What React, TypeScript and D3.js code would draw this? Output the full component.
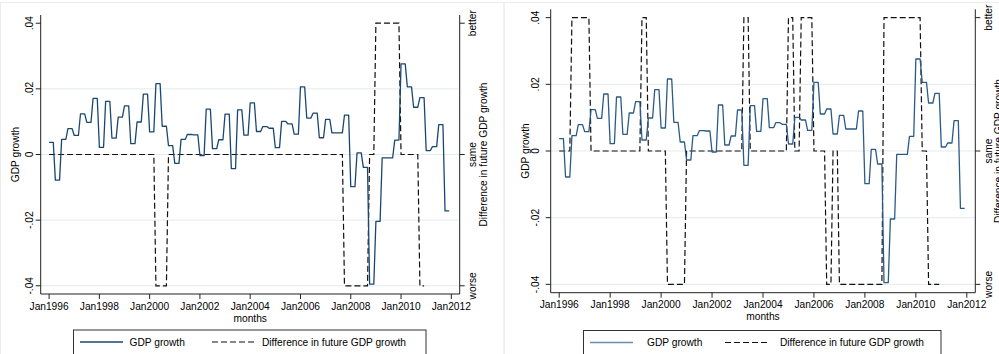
import React from "react";
import * as d3 from "d3";

// ---------- data ----------
// Quarterly GDP growth, 1996Q1 .. 2011Q4 (each quarter shown as three monthly points)
const gdpStartYear = 1996;
const gdpGrowthQuarterly: number[] = [
  0.0037, -0.0078, 0.0046, 0.0079,
  0.0058, 0.0124, 0.0098, 0.0171,
  0.0022, 0.0162, 0.0050, 0.0114,
  0.0148, 0.0033, 0.0099, 0.0184,
  0.0069, 0.0216, 0.0086, 0.0027,
  -0.0027, 0.0046, 0.0061, 0.0060,
  -0.0003, 0.0138, 0.0018, 0.0045,
  0.0123, -0.0043, 0.0136, 0.0059,
  0.0157, 0.0070, 0.0085, 0.0080,
  0.0021, 0.0101, 0.0093, 0.0062,
  0.0206, 0.0111, 0.0126, 0.0051,
  0.0107, 0.0066, 0.0066, 0.0120,
  -0.0098, 0.0005, -0.0039, -0.0395,
  -0.0204, -0.0010, -0.0010, 0.0044,
  0.0276, 0.0206, 0.0144, 0.0173,
  0.0012, 0.0024, 0.0091, -0.0172,
];

// Difference in future GDP growth (-1 worse, 0 same, 1 better): month where each value starts
const diffLeftChanges: [string, number][] = [
  ["1996-01", 0], ["2000-04", -1], ["2000-10", 0], ["2007-10", -1],
  ["2008-10", 0], ["2009-01", 1], ["2010-01", 0], ["2010-10", -1],
];
const diffRightChanges: [string, number][] = [
  ["1996-01", 0], ["1996-07", 1], ["1997-04", 0], ["1999-04", 1],
  ["1999-07", 0], ["2000-04", -1], ["2001-01", 0], ["2003-04", 1],
  ["2003-07", 0], ["2005-01", 1], ["2005-04", 0], ["2005-07", 1],
  ["2006-01", 0], ["2006-07", -1], ["2006-10", 0], ["2007-01", -1],
  ["2008-10", 1], ["2010-04", 0], ["2010-07", -1],
];
const diffEnd = "2010-12";

const yTicks = [-0.04, -0.02, 0, 0.02, 0.04];
const yTickLabels = ["-.04", "-.02", "0", ".02", ".04"];
const yGrid = [-0.04, -0.02, 0, 0.02];
const rightTicks = [-1, 0, 1];
const rightTickLabels = ["worse", "same", "better"];
const xTickYears = [1996, 1998, 2000, 2002, 2004, 2006, 2008, 2010, 2012];

const legendLabels = ["GDP growth", "Difference in future GDP growth"];

// ---------- helpers ----------
const monthIndex = (s: string) => {
  const [y, m] = s.split("-").map(Number);
  return (y - gdpStartYear) * 12 + (m - 1);
};

const gdpMonthly = gdpGrowthQuarterly.flatMap((v, q) =>
  [0, 1, 2].map((k) => ({ t: q * 3 + k, v }))
);

const expandChanges = (ch: [string, number][]) => {
  const end = monthIndex(diffEnd);
  const out: { t: number; v: number }[] = [];
  ch.forEach(([s, v], i) => {
    const a = monthIndex(s);
    const b = i + 1 < ch.length ? monthIndex(ch[i + 1][0]) - 1 : end;
    for (let t = a; t <= b; t++) out.push({ t, v });
  });
  return out;
};

const FONT = "'Liberation Sans', Arial, Helvetica, sans-serif";
const FS = 10.2;
const AXIS = "#222";
const GRID = "#e3ebee";

type PanelCfg = {
  x0: number; x1: number; yT: number; yB: number;
  tickLabOff: number; titleOff: number;
  changes: [string, number][];
  lineColor: string; legendLineColor: string;
  legend: { bx0: number; bx1: number; by: number; k1: number; t1: number; k2: number; t2: number };
  frame: [number, number];
};

function Panel({ p }: { p: PanelCfg }) {
  const x = d3.scaleLinear().domain([-4, 196]).range([p.x0, p.x1]);
  const y = d3.scaleLinear().domain([-0.0425, 0.0425]).range([p.yB, p.yT]);
  const yr = d3.scaleLinear().domain([-1.0625, 1.0625]).range([p.yB, p.yT]);
  const gdpLine = d3.line<{ t: number; v: number }>().x((d) => x(d.t)).y((d) => y(d.v));
  const diffLine = d3.line<{ t: number; v: number }>().x((d) => x(d.t)).y((d) => yr(d.v));
  const diffData = expandChanges(p.changes);
  const midY = (p.yT + p.yB) / 2;
  const xMid = x(monthIndex("2004-01"));
  const L = p.legend;
  return (
    <g fontFamily={FONT} fontSize={FS} fill="#000">
      <rect x={p.frame[0]} y={2.5} width={p.frame[1] - p.frame[0]} height={360} fill="none" stroke="#ececec" />
      {yGrid.map((g) => (
        <line key={g} x1={p.x0} x2={p.x1} y1={y(g)} y2={y(g)} stroke={GRID} strokeWidth={1} />
      ))}
      <path d={diffLine(diffData) || ""} fill="none" stroke="#111" strokeWidth={1.2} strokeDasharray="6,3" />
      <path d={gdpLine(gdpMonthly) || ""} fill="none" stroke={p.lineColor} strokeWidth={1.3} strokeLinejoin="round" />
      {/* axes */}
      <line x1={p.x0} x2={p.x0} y1={p.yT} y2={p.yB} stroke={AXIS} strokeWidth={1} />
      <line x1={p.x1} x2={p.x1} y1={p.yT} y2={p.yB} stroke={AXIS} strokeWidth={1} />
      <line x1={p.x0} x2={p.x1} y1={p.yB} y2={p.yB} stroke={AXIS} strokeWidth={1} />
      {yTicks.map((t, i) => (
        <g key={t}>
          <line x1={p.x0 - 5} x2={p.x0} y1={y(t)} y2={y(t)} stroke={AXIS} />
          <text transform={`translate(${p.x0 - p.tickLabOff},${y(t)}) rotate(-90)`} textAnchor="middle" dominantBaseline="central">
            {yTickLabels[i]}
          </text>
        </g>
      ))}
      {rightTicks.map((t, i) => (
        <g key={t}>
          <line x1={p.x1} x2={p.x1 + 5} y1={yr(t)} y2={yr(t)} stroke={AXIS} />
          <text transform={`translate(${p.x1 + 12.8},${yr(t)}) rotate(-90)`} textAnchor="middle" dominantBaseline="central">
            {rightTickLabels[i]}
          </text>
        </g>
      ))}
      {xTickYears.map((yy) => {
        const xx = x(monthIndex(`${yy}-01`));
        return (
          <g key={yy}>
            <line x1={xx} x2={xx} y1={p.yB} y2={p.yB + 5} stroke={AXIS} />
            <text x={xx} y={p.yB + 12} textAnchor="middle" dominantBaseline="central">{`Jan${yy}`}</text>
          </g>
        );
      })}
      <text x={xMid} y={p.yB + 24} textAnchor="middle" dominantBaseline="central">months</text>
      <text transform={`translate(${p.x0 - p.titleOff},${midY}) rotate(-90)`} textAnchor="middle" dominantBaseline="central">
        GDP growth
      </text>
      <text transform={`translate(${p.x1 + 23.5},${midY}) rotate(-90)`} textAnchor="middle" dominantBaseline="central">
        Difference in future GDP growth
      </text>
      {/* legend */}
      <rect x={L.bx0} y={L.by} width={L.bx1 - L.bx0} height={40} fill="#fff" stroke="#333" strokeWidth={1} />
      <line x1={L.k1} x2={L.k1 + 43} y1={L.by + 12} y2={L.by + 12} stroke={p.legendLineColor} strokeWidth={1.3} />
      <text x={L.t1} y={L.by + 12} dominantBaseline="central">{legendLabels[0]}</text>
      <line x1={L.k2} x2={L.k2 + 43} y1={L.by + 12} y2={L.by + 12} stroke="#111" strokeWidth={1.2} strokeDasharray="6,3" />
      <text x={L.t2} y={L.by + 12} dominantBaseline="central">{legendLabels[1]}</text>
    </g>
  );
}

const leftPanel: PanelCfg = {
  x0: 40.7, x1: 459.7, yT: 15, yB: 294, tickLabOff: 11.4, titleOff: 25.7,
  changes: diffLeftChanges, lineColor: "#1a476f", legendLineColor: "#1a476f",
  legend: { bx0: 73.5, bx1: 426, by: 330, k1: 80, t1: 129.5, k2: 212, t2: 262 },
  frame: [0.5, 504],
};
const rightPanel: PanelCfg = {
  x0: 550.7, x1: 975.3, yT: 9.3, yB: 292.7, tickLabOff: 15, titleOff: 25.5,
  changes: diffRightChanges, lineColor: "#2b5a86", legendLineColor: "#6d8db0",
  legend: { bx0: 583.5, bx1: 941, by: 330.5, k1: 590, t1: 647, k2: 725, t2: 780 },
  frame: [504, 1010],
};

export default function App() {
  return (
    <svg width={999} height={354} style={{ position: "absolute", left: 0, top: 0, background: "#fff" }}>
      <Panel p={leftPanel} />
      <Panel p={rightPanel} />
    </svg>
  );
}
